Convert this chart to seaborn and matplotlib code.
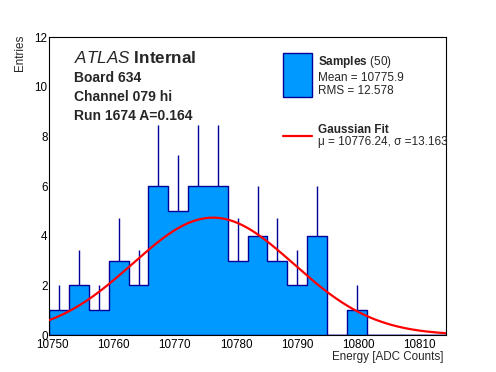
import numpy as np
import pandas as pd
import seaborn as sns
import matplotlib.pyplot as plt

# bin contents (20 bins)
counts = [1, 2, 1, 3, 2, 6, 5, 6, 6, 3, 4, 3, 2, 4, 0, 1, 0, 0, 0, 0]
x_lo, x_hi = 10749.5, 10814.3
n_bins = 20

fit_mu = 10776.24
fit_sigma = 13.163
fit_amp = 4.73

info_lines = ['Board 634', 'Channel 079 hi', 'Run 1674 A=0.164']
x_ticks = [10750, 10760, 10770, 10780, 10790, 10800, 10810]
y_ticks = [0, 2, 4, 6, 8, 10, 12]

sns.set_style('white')
plt.rcParams['font.family'] = ['Liberation Sans', 'DejaVu Sans']
plt.rcParams['mathtext.fontset'] = 'custom'
plt.rcParams['mathtext.rm'] = 'Liberation Sans'
plt.rcParams['mathtext.it'] = 'Liberation Sans:italic'
plt.rcParams['mathtext.bf'] = 'Liberation Sans:bold'

W, H = 496, 372


def px(x, y):
    return x / W, 1 - y / H


fig = plt.figure(figsize=(W / 100, H / 100), dpi=100)
ax = fig.add_axes([49.3 / W, 1 - 335 / H, (446 - 49.3) / W, (335 - 37.3) / H])

edges = np.linspace(x_lo, x_hi, n_bins + 1)
centers = (edges[:-1] + edges[1:]) / 2
cnt = np.array(counts, dtype=float)
err = np.sqrt(cnt)
df = pd.DataFrame({'energy': centers, 'entries': cnt})

# error bars sit behind the filled histogram, only the top part shows
ax.vlines(centers, cnt - err, cnt + err, color='#000099', lw=1, zorder=0.5)

sns.histplot(data=df, x='energy', weights='entries', bins=edges.tolist(),
             element='step', fill=True, color='#0099ff', alpha=1,
             edgecolor='#000099', linewidth=1, ax=ax, zorder=1)

xs = np.linspace(x_lo, x_hi, 300)
ys = fit_amp * np.exp(-(xs - fit_mu) ** 2 / (2 * fit_sigma ** 2))
sns.lineplot(x=xs, y=ys, color='red', lw=1.6, ax=ax, zorder=3)

ax.set_xlim(x_lo, x_hi)
ax.set_ylim(0, 12)
ax.set_xticks(x_ticks)
ax.set_yticks(y_ticks)
ax.set_xticks(np.arange(10750, 10815, 2), minor=True)
ax.set_yticks(np.arange(0, 12.01, 0.5), minor=True)
ax.set_xlabel('')
ax.set_ylabel('')
ax.tick_params(axis='both', which='both', direction='in', colors='black',
               labelsize=8.4, width=0.8)
ax.tick_params(axis='x', which='major', length=6.4, pad=2.6)
ax.tick_params(axis='x', which='minor', length=3.2)
ax.tick_params(axis='y', which='major', length=8.6, pad=1.2)
ax.tick_params(axis='y', which='minor', length=4.3)
for s in ax.spines.values():
    s.set_color('black')
    s.set_linewidth(0.8)

fig.text(*px(444, 360), 'Energy [ADC Counts]', ha='right', va='baseline',
         fontsize=8.4)
fig.text(*px(19.5, 35), 'Entries', rotation=90, ha='center', va='top',
         fontsize=8.4)

# ATLAS label block
fig.text(*px(73.5, 63.3), r'$\mathit{ATLAS}$ Internal', fontsize=12.3,
         fontweight='bold', va='baseline')
for i, line in enumerate(info_lines):
    fig.text(*px(74, 81.5 + i * 19.3), line, fontsize=10, fontweight='bold',
             va='baseline')

# legend, drawn by hand to keep the ROOT layout
box = plt.Rectangle(px(283.3, 96.7), 28.4 / W, 43.4 / H, transform=fig.transFigure,
                    facecolor='#0099ff', edgecolor='#000099', lw=1)
fig.patches.append(box)
fig.text(*px(317.5, 65), r'$\mathbf{Samples}$ (50)', fontsize=8.5, va='baseline')
fig.text(*px(317.5, 80.7), 'Mean = 10775.9', fontsize=8.5, va='baseline')
fig.text(*px(317.5, 94), 'RMS = 12.578', fontsize=8.5, va='baseline')

fig.lines.append(plt.Line2D([283.3 / W, 311.7 / W], [1 - 136 / H, 1 - 136 / H],
                            transform=fig.transFigure, color='red', lw=1.6))
fig.text(*px(317.5, 132.7), 'Gaussian Fit', fontsize=8.5, fontweight='bold',
         va='baseline')
fig.text(*px(317.5, 145.5), 'μ = 10776.24, σ =13.163', fontsize=8.5,
         va='baseline')

fig.savefig('out.png', dpi=100)
